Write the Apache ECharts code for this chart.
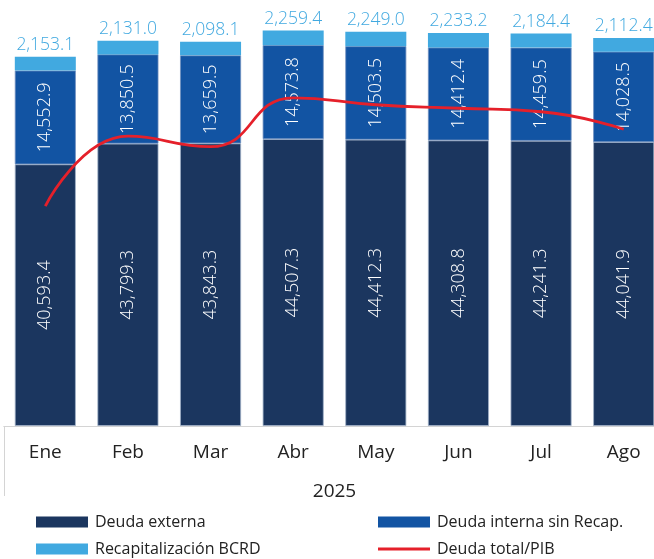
<!DOCTYPE html>
<html>
<head>
<meta charset="utf-8">
<script src="https://cdn.jsdelivr.net/npm/echarts@6/dist/echarts.min.js"></script>
<style>
  html, body { margin: 0; padding: 0; background: #fff; }
  #chart { width: 654px; height: 559px; }
</style>
</head>
<body>
<div id="chart"></div>
<script>
// Saldo de la deuda pública por mes, 2025 (millones de US$) y deuda total como % del PIB
const months = ['Ene', 'Feb', 'Mar', 'Abr', 'May', 'Jun', 'Jul', 'Ago'];
const yearLabel = ['2025'];
const deudaExterna = [40593.4, 43799.3, 43843.3, 44507.3, 44412.3, 44308.8, 44241.3, 44041.9];
const deudaInterna = [14552.9, 13850.5, 13659.5, 14573.8, 14503.5, 14412.4, 14459.5, 14028.5];
const recapBCRD = [2153.1, 2131.0, 2098.1, 2259.4, 2249.0, 2233.2, 2184.4, 2112.4];
const deudaPIB = [44.3, 46.3, 46.0, 47.4, 47.2, 47.1, 47.0, 46.5];

const FONT = '"Open Sans", "Noto Sans", sans-serif';
const fmt = v => v.toLocaleString('en-US', { minimumFractionDigits: 1, maximumFractionDigits: 1 });

const insideLabel = {
  show: true,
  position: 'inside',
  rotate: 90,
  color: '#ffffff',
  fontFamily: FONT,
  fontWeight: 300,
  fontSize: 18,
  formatter: p => fmt(p.value)
};

const legendText = { color: '#222', fontFamily: FONT, fontSize: 16, padding: [0, 0, 0, 2] };
const swatch = { borderWidth: 0 };

const chart = echarts.init(document.getElementById('chart'), null, { renderer: 'canvas' });

chart.setOption({
  animation: false,
  backgroundColor: '#ffffff',
  // the plot runs a little past the right edge of the canvas
  grid: { left: 4, top: 7, width: 661, height: 419, outerBoundsMode: 'none', containLabel: false },
  xAxis: [
    {
      type: 'category',
      data: months,
      axisLine: { show: true, lineStyle: { color: '#d4d4d4', width: 1 } },
      axisTick: { show: false },
      axisLabel: { color: '#222', fontFamily: FONT, fontSize: 19, margin: 17 }
    },
    {
      type: 'category',
      data: yearLabel,
      position: 'bottom',
      axisLine: { show: true, lineStyle: { color: '#d4d4d4', width: 1 } },
      axisTick: { show: true, length: 70, lineStyle: { color: '#d4d4d4', width: 1 } },
      axisLabel: { color: '#222', fontFamily: FONT, fontSize: 19, margin: 56 }
    }
  ],
  yAxis: [
    { type: 'value', min: 0, max: 65000, show: false, splitLine: { show: false } },
    { type: 'value', min: 38, max: 50, show: false, splitLine: { show: false } }
  ],
  legend: [
    {
      data: ['Deuda externa'], left: 36, top: 514, padding: 0, icon: 'rect',
      itemWidth: 52, itemHeight: 11, itemStyle: swatch, textStyle: legendText
    },
    {
      data: ['Deuda interna sin Recap.'], left: 378, top: 514, padding: 0, icon: 'rect',
      itemWidth: 52, itemHeight: 11, itemStyle: swatch, textStyle: legendText
    },
    {
      data: ['Recapitalización BCRD'], left: 36, top: 541, padding: 0, icon: 'rect',
      itemWidth: 52, itemHeight: 11, itemStyle: swatch, textStyle: legendText
    },
    {
      data: ['Deuda total/PIB'], left: 378, top: 541, padding: 0, icon: 'rect',
      itemWidth: 52, itemHeight: 3, itemStyle: swatch, textStyle: legendText
    }
  ],
  series: [
    {
      name: 'Deuda externa',
      type: 'bar',
      stack: 'deuda',
      data: deudaExterna,
      barWidth: 61,
      itemStyle: { color: '#1b365f', borderColor: '#9fb0c6', borderWidth: 0.8 },
      label: insideLabel
    },
    {
      name: 'Deuda interna sin Recap.',
      type: 'bar',
      stack: 'deuda',
      data: deudaInterna,
      barWidth: 61,
      itemStyle: { color: '#1254a3', borderColor: '#6f8fbf', borderWidth: 0.8 },
      label: insideLabel
    },
    {
      name: 'Recapitalización BCRD',
      type: 'bar',
      stack: 'deuda',
      data: recapBCRD,
      barWidth: 61,
      itemStyle: { color: '#41a9e0' },
      label: {
        show: true,
        position: 'top',
        distance: 3,
        color: '#41a9e0',
        fontFamily: FONT,
        fontWeight: 300,
        fontSize: 17.5,
        formatter: p => fmt(p.value)
      }
    },
    {
      name: 'Deuda total/PIB',
      type: 'line',
      yAxisIndex: 1,
      data: deudaPIB,
      smooth: 0.5,
      symbol: 'none',
      lineStyle: { color: '#e5202a', width: 2.8 },
      itemStyle: { color: '#e5202a' },
      z: 5
    }
  ]
});
</script>
</body>
</html>
